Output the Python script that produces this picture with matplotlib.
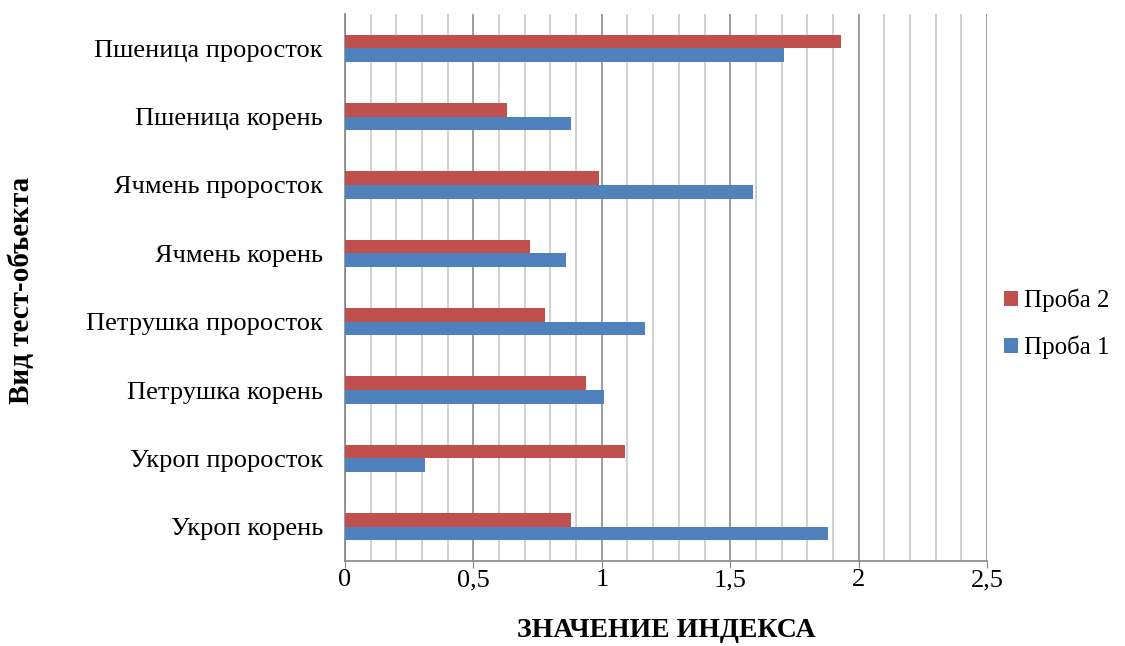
import matplotlib
matplotlib.use("Agg")
import matplotlib.pyplot as plt
import numpy as np
from matplotlib.ticker import MultipleLocator, FuncFormatter

categories = ["Пшеница проросток", "Пшеница корень", "Ячмень проросток", "Ячмень корень",
              "Петрушка проросток", "Петрушка корень", "Укроп проросток", "Укроп корень"]
proba1 = [1.71, 0.88, 1.59, 0.86, 1.17, 1.01, 0.31, 1.88]
proba2 = [1.93, 0.63, 0.99, 0.72, 0.78, 0.94, 1.09, 0.88]
series_names = ["Проба 1", "Проба 2"]
xticks = [0, 0.5, 1, 1.5, 2, 2.5]

plt.rcParams['font.family'] = ['Liberation Serif', 'DejaVu Serif']

fig = plt.figure(figsize=(11.25, 6.46), dpi=100)
ax = fig.add_axes([345/1125, 1 - 561/646, (987-345)/1125, (561-14)/646])

n = len(categories)
y = np.arange(n)[::-1]
h = 0.2
ax.barh(y - h/2, proba1, height=h, color="#4F81BD", label=series_names[0], zorder=3)
ax.barh(y + h/2, proba2, height=h, color="#C0504D", label=series_names[1], zorder=3)

ax.set_xlim(0, 2.5)
ax.set_ylim(-0.5, n - 0.5)
ax.set_yticks(y)
ax.set_yticklabels(categories, fontsize=19)
ax.set_xticks(xticks)
ax.xaxis.set_major_formatter(FuncFormatter(lambda v, p: ("%g" % v).replace(".", ",")))
ax.xaxis.set_minor_locator(MultipleLocator(0.1))
ax.tick_params(axis='x', which='major', labelsize=19, length=5, color="#868686", pad=1)
ax.tick_params(axis='x', which='minor', length=0)
ax.tick_params(axis='y', length=0, pad=16)

ax.grid(axis='x', which='minor', color="#C8C8C8", linewidth=1.2, zorder=0)
ax.grid(axis='x', which='major', color="#8C8C8C", linewidth=1.2, zorder=0)

for s in ['top', 'right']:
    ax.spines[s].set_visible(False)
for s in ['left', 'bottom']:
    ax.spines[s].set_color("#868686")
    ax.spines[s].set_linewidth(1.2)

ax.set_xlabel("ЗНАЧЕНИЕ ИНДЕКСА", fontsize=20, fontweight='bold', labelpad=19)
fig.text(22/1125, 1 - 290/646, "Вид тест-объекта", rotation=90, fontsize=21,
         fontweight='bold', ha='center', va='center')

handles, labels = ax.get_legend_handles_labels()
fig.legend(handles[::-1], labels[::-1], loc='center left',
           bbox_to_anchor=(1004/1125, 1 - 324/646), bbox_transform=fig.transFigure,
           frameon=False, fontsize=18, handlelength=0.55, handleheight=0.55,
           handletextpad=0.25, labelspacing=0.95, borderpad=0, borderaxespad=0)

fig.savefig("out.png", dpi=100)
